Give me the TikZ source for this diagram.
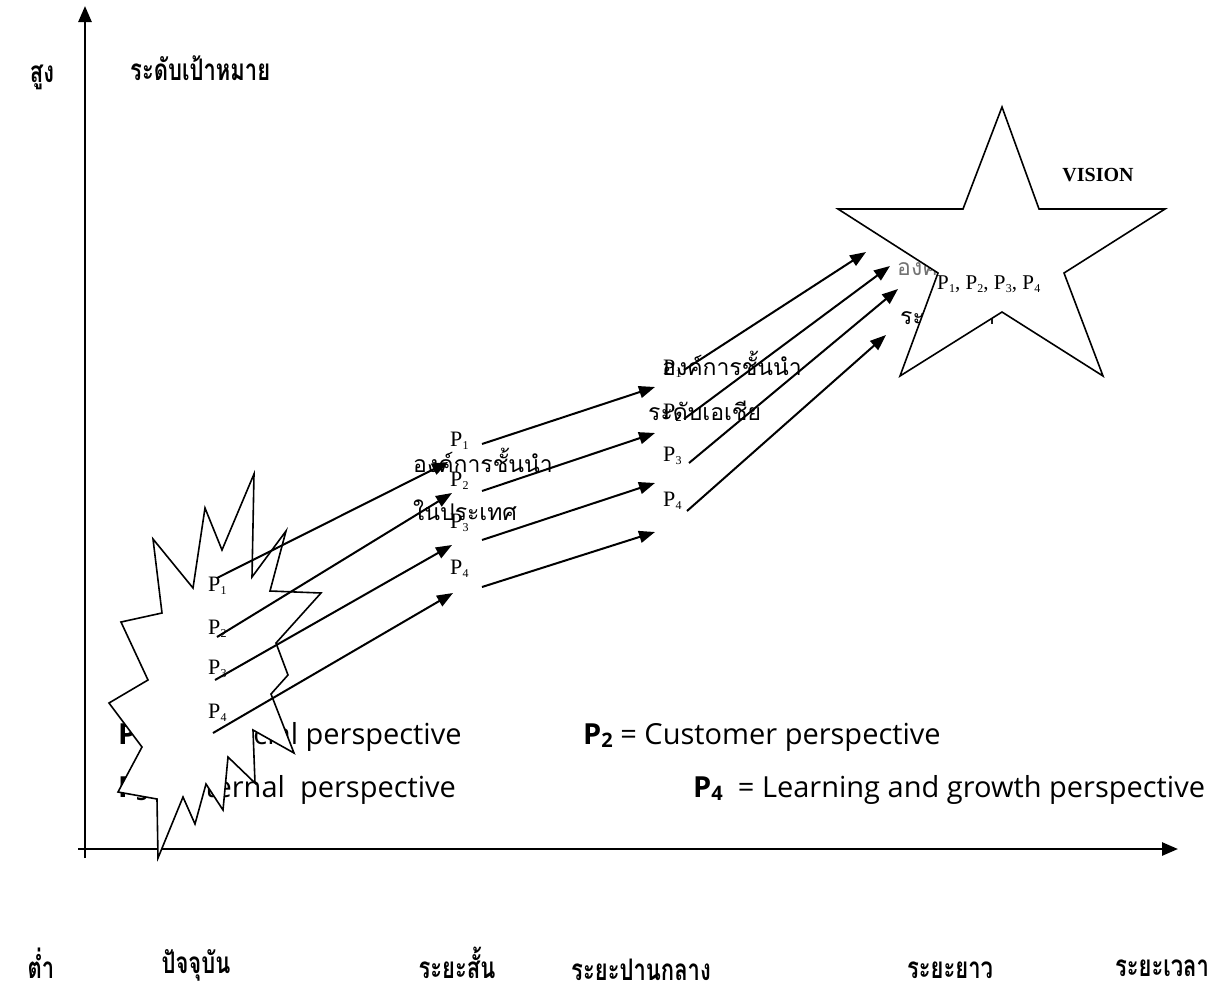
\documentclass[tikz,border=0pt]{standalone}
\usepackage{fontspec}
\usetikzlibrary{arrows.meta}
\setmainfont{Liberation Serif}
\newfontfamily\thai[Script=Thai]{Loma}
\newfontfamily\legfont{Open Sans}
\newcommand\Pn[1]{P\kern0.01em\raisebox{-0.35ex}{\fontsize{12}{12}\selectfont #1}}
\newcommand\Lp[1]{\textbf{P\raisebox{-0.25ex}{\fontsize{20}{20}\selectfont #1}}}
\newcommand\tall[1]{\scalebox{1}[1.35]{#1}}
\begin{document}
\begin{tikzpicture}[x=1pt,y=-1pt,
  arr/.style={line width=2pt,-{Triangle[length=16pt,width=12pt]}},
  axisline/.style={line width=2.6pt,-{Triangle[length=16pt,width=13pt]}},
  plab/.style={font=\fontsize{22}{22}\selectfont,inner sep=0,anchor=base west},
  thlab/.style={font=\thai\fontsize{23}{28}\selectfont,inner sep=0,anchor=base west},
  axlab/.style={font=\thai\bfseries\fontsize{22}{26}\selectfont,inner sep=0,anchor=base},
  leg/.style={font=\legfont\fontsize{29}{32}\selectfont,inner sep=0,anchor=base west},
  shapeline/.style={line width=1.6pt,line join=miter}]
\useasboundingbox[fill=white] (0,0) rectangle (1220,991);

% axes
\coordinate (yb) at (85,858);
\coordinate (yt) at (85,6);
\coordinate (xl) at (78,849);
\coordinate (xr) at (1178,849);
\draw[axisline] (yb) -- (yt);
\draw[axisline] (xl) -- (xr);

% axis labels
\node[axlab] (high) at (42,82) {\tall{สูง}};
\node[axlab,anchor=base west] (target) at (130,80) {\tall{ระดับเป้าหมาย}};
\node[axlab] (low) at (41,978) {\tall{ต่ำ}};
\node[axlab] (now) at (196,973) {\tall{ปัจจุบัน}};
\node[axlab] (short) at (457,978) {\tall{ระยะสั้น}};
\node[axlab] (mid) at (641,980) {\tall{ระยะปานกลาง}};
\node[axlab] (long) at (950,978) {\tall{ระยะยาว}};
\node[axlab] (time) at (1162,976) {\tall{ระยะเวลา}};

% legend (partly hidden by the burst)
\node[leg] (l1) at (118,744) {\Lp{1} = Financial perspective};
\node[leg] (l3) at (118,797) {\Lp{3} = Internal\ \ perspective};
\node[leg] (l2) at (583,744) {\Lp{2} = Customer perspective};
\node[leg] (l4) at (693,797) {\Lp{4}\ \ = Learning and growth perspective};

% text behind the star
\node[thlab,text=black!55] (w1) at (897,275) {องค์การชั้นนำ};
\node[thlab] (w2) at (900,324) {ระดับโลก};

% star
\draw[shapeline,fill=white] (1002,107) -- (1039,209) -- (1165,209) -- (1064,273) -- (1103,376)
  -- (1002,312) -- (900,376) -- (938,273) -- (838,209) -- (963,209) -- cycle;
\node[font=\bfseries\fontsize{20}{20}\selectfont,inner sep=0] (vision) at (1098,175) {VISION};
\node[plab,font=\fontsize{21}{21}\selectfont] (sp) at (937,289) {\Pn{1}, \Pn{2}, \Pn{3}, \Pn{4}};

% burst
\draw[shapeline,fill=white] (254,474) -- (252,577) -- (286,531) -- (270,591) -- (321,593)
  -- (276,643) -- (288,675) -- (271,694) -- (294,753) -- (253,730) -- (255,783)
  -- (228,757) -- (223,810) -- (206,784) -- (195,824) -- (183,797) -- (158,858)
  -- (157,799) -- (118,792) -- (142,747) -- (109,703) -- (148,680) -- (121,622)
  -- (162,613) -- (153,539) -- (193,588) -- (205,508) -- (222,550) -- cycle;

% P labels
\node[plab] (a1) at (208,591) {\Pn{1}};
\node[plab] (a2) at (208,634) {\Pn{2}};
\node[plab] (a3) at (208,674) {\Pn{3}};
\node[plab] (a4) at (208,718) {\Pn{4}};
\node[plab] (b1) at (450,446) {\Pn{1}};
\node[plab] (b2) at (450,486) {\Pn{2}};
\node[plab] (b3) at (450,528) {\Pn{3}};
\node[plab] (b4) at (450,574) {\Pn{4}};
\node[plab] (c1) at (663,374) {\Pn{1}};
\node[plab] (c2) at (663,418) {\Pn{2}};
\node[plab] (c3) at (663,461) {\Pn{3}};
\node[plab] (c4) at (663,506) {\Pn{4}};

% Thai captions
\node[thlab] (t1) at (413,472) {องค์การชั้นนำ};
\node[thlab] (t2) at (413,520) {ในประเทศ};
\node[thlab] (t3) at (662,375) {องค์การชั้นนำ};
\node[thlab] (t4) at (648,420) {ระดับเอเชีย};

% arrow end points
\coordinate (s11) at (217,578); \coordinate (e11) at (448,462);
\coordinate (s12) at (217,637); \coordinate (e12) at (452,493);
\coordinate (s13) at (215,680); \coordinate (e13) at (452,545);
\coordinate (s14) at (213,733); \coordinate (e14) at (453,593);
\coordinate (s21) at (482,444); \coordinate (e21) at (655,387);
\coordinate (s22) at (482,491); \coordinate (e22) at (655,433);
\coordinate (s23) at (482,540); \coordinate (e23) at (655,483);
\coordinate (s24) at (482,587); \coordinate (e24) at (655,532);
\coordinate (s31) at (684,370); \coordinate (e31) at (866,252);
\coordinate (s32) at (684,419); \coordinate (e32) at (890,266);
\coordinate (s33) at (689,463); \coordinate (e33) at (898,289);
\coordinate (s34) at (687,511); \coordinate (e34) at (886,335);
\foreach \i in {1,2,3,4}{
  \draw[arr] (s1\i) -- (e1\i);
  \draw[arr] (s2\i) -- (e2\i);
  \draw[arr] (s3\i) -- (e3\i);
}
\end{tikzpicture}
\end{document}
